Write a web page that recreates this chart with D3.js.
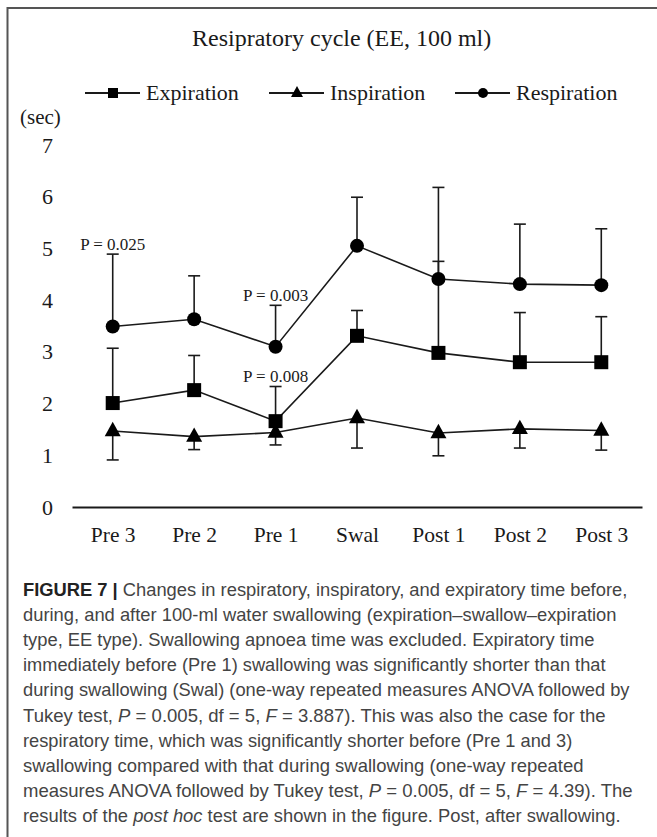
<!DOCTYPE html>
<html>
<head>
<meta charset="utf-8">
<script src="https://cdn.jsdelivr.net/npm/d3@7"></script>
<style>
  body { margin: 0; background: #fff; }
  svg { display: block; }
</style>
</head>
<body>
<div id="chart"></div>
<script>
// data (seconds)
var categories = ["Pre 3", "Pre 2", "Pre 1", "Swal", "Post 1", "Post 2", "Post 3"];
var yTicks = [0, 1, 2, 3, 4, 5, 6, 7];

var expiration = [2.01, 2.26, 1.66, 3.31, 2.98, 2.80, 2.80];
var expirationSD = [1.06, 0.67, 0.67, 0.49, 1.77, 0.96, 0.88];

var inspiration = [1.47, 1.36, 1.44, 1.72, 1.43, 1.51, 1.48];
var inspirationSD = [0.56, 0.25, 0.24, 0.58, 0.44, 0.37, 0.38];

var respiration = [3.49, 3.63, 3.10, 5.05, 4.41, 4.31, 4.29];
var respirationSD = [1.40, 0.84, 0.80, 0.94, 1.77, 1.16, 1.09];

var pLabels = ["P = 0.025", "P = 0.003", "P = 0.008"];
var pCategories = ["Pre 3", "Pre 1", "Pre 1"];
var pSeries = ["Respiration", "Respiration", "Expiration"];

var captionLines = [
  [["FIGURE 7 | ", "b"], ["Changes in respiratory, inspiratory, and expiratory time before,", ""]],
  [["during, and after 100-ml water swallowing (expiration\u2013swallow\u2013expiration", ""]],
  [["type, EE type). Swallowing apnoea time was excluded. Expiratory time", ""]],
  [["immediately before (Pre 1) swallowing was significantly shorter than that", ""]],
  [["during swallowing (Swal) (one-way repeated measures ANOVA followed by", ""]],
  [["Tukey test, ", ""], ["P", "i"], [" = 0.005, df = 5, ", ""], ["F", "i"], [" = 3.887). This was also the case for the", ""]],
  [["respiratory time, which was significantly shorter before (Pre 1 and 3)", ""]],
  [["swallowing compared with that during swallowing (one-way repeated", ""]],
  [["measures ANOVA followed by Tukey test, ", ""], ["P", "i"], [" = 0.005, df = 5, ", ""], ["F", "i"], [" = 4.39). The", ""]],
  [["results of the ", ""], ["post hoc", "i"], [" test are shown in the figure. Post, after swallowing.", ""]]
];
var captionWidths = [605, 594, 572, 583, 607, 583, 550, 561, 610, 598];

var W = 657, H = 837;
var serif = "'Liberation Serif', 'Times New Roman', serif";
var ink = "#1a1a1a";

var svg = d3.select("#chart").append("svg")
  .attr("width", W)
  .attr("height", H);

svg.append("rect").attr("width", W).attr("height", H).attr("fill", "#fff");

// frame (top + left rule)
svg.append("path")
  .attr("d", "M7.5," + H + "V8H" + W)
  .attr("fill", "none")
  .attr("stroke", "#555")
  .attr("stroke-width", 2);

// scales
var x = d3.scalePoint()
  .domain(categories)
  .range([72, 642])
  .padding(0.5);

var y = d3.scaleLinear()
  .domain([0, 7])
  .range([507, 145]);

// title
svg.append("text")
  .attr("x", 192)
  .attr("y", 46)
  .style("font-family", serif)
  .style("font-size", "24px")
  .attr("fill", ink)
  .text("Resipratory cycle (EE, 100 ml)");

svg.append("text")
  .attr("x", 20)
  .attr("y", 124)
  .style("font-family", serif)
  .style("font-size", "21px")
  .attr("fill", ink)
  .text("(sec)");

// y axis (labels only)
var yAxis = svg.append("g")
  .attr("transform", "translate(61,0)")
  .call(d3.axisLeft(y).tickValues(yTicks).tickSize(0).tickPadding(8).tickFormat(d3.format("d")));
yAxis.select(".domain").remove();
yAxis.selectAll("text")
  .style("font-family", serif)
  .style("font-size", "22px")
  .attr("fill", ink);

// x axis
var xAxis = svg.append("g")
  .attr("transform", "translate(0," + y(0) + ")")
  .call(d3.axisBottom(x).tickSize(0).tickSizeOuter(0));
xAxis.select(".domain")
  .attr("stroke", ink)
  .attr("stroke-width", 2);
xAxis.selectAll("text")
  .attr("y", 27)
  .attr("dy", "0.35em")
  .style("font-family", serif)
  .style("font-size", "21.5px")
  .attr("fill", ink);

// marker shapes
function drawMarker(g, shape, s) {
  if (shape === "square") {
    g.append("rect").attr("x", -s / 2).attr("y", -s / 2).attr("width", s).attr("height", s).attr("fill", "#000");
  } else if (shape === "circle") {
    g.append("circle").attr("r", s / 2).attr("fill", "#000");
  } else {
    var h = s * 0.9;
    g.append("path")
      .attr("d", "M0," + (-h * 0.64) + "L" + (s / 2) + "," + (h * 0.36) + "L" + (-s / 2) + "," + (h * 0.36) + "Z")
      .attr("fill", "#000");
  }
}

var series = [
  { name: "Expiration", values: expiration, sd: expirationSD, dir: 1, shape: "square", size: 14 },
  { name: "Inspiration", values: inspiration, sd: inspirationSD, dir: -1, shape: "triangle", size: 16 },
  { name: "Respiration", values: respiration, sd: respirationSD, dir: 1, shape: "circle", size: 14 }
];

var line = d3.line()
  .x(function(d) { return x(d.cat); })
  .y(function(d) { return y(d.v); });

series.forEach(function(s) {
  var pts = categories.map(function(c, i) { return { cat: c, v: s.values[i], sd: s.sd[i] }; });
  var g = svg.append("g");

  // error bars (one-sided)
  pts.forEach(function(p) {
    var end = y(p.v + s.dir * p.sd);
    g.append("line")
      .attr("x1", x(p.cat)).attr("x2", x(p.cat))
      .attr("y1", y(p.v)).attr("y2", end)
      .attr("stroke", ink).attr("stroke-width", 1.6);
    g.append("line")
      .attr("x1", x(p.cat) - 6).attr("x2", x(p.cat) + 6)
      .attr("y1", end).attr("y2", end)
      .attr("stroke", ink).attr("stroke-width", 1.6);
  });

  g.append("path")
    .datum(pts)
    .attr("d", line)
    .attr("fill", "none")
    .attr("stroke", ink)
    .attr("stroke-width", 1.6);

  pts.forEach(function(p) {
    var m = g.append("g").attr("transform", "translate(" + x(p.cat) + "," + y(p.v) + ")");
    drawMarker(m, s.shape, s.size);
  });
});

// significance labels above the error caps
pLabels.forEach(function(lab, i) {
  var s = series.filter(function(d) { return d.name === pSeries[i]; })[0];
  var k = categories.indexOf(pCategories[i]);
  svg.append("text")
    .attr("x", x(pCategories[i]))
    .attr("y", y(s.values[k] + s.sd[k]) - 10)
    .attr("dy", "0.35em")
    .attr("text-anchor", "middle")
    .style("font-family", serif)
    .style("font-size", "17px")
    .attr("fill", ink)
    .text(lab);
});

// legend
var legendX = [113, 297, 483];
series.forEach(function(s, i) {
  var lg = svg.append("g").attr("transform", "translate(" + legendX[i] + ",93)");
  lg.append("line")
    .attr("x1", -28).attr("x2", 27)
    .attr("stroke", ink).attr("stroke-width", 1.8);
  drawMarker(lg, s.shape, s.shape === "triangle" ? 12 : 10);
  lg.append("text")
    .attr("x", 33)
    .attr("dy", "0.33em")
    .style("font-family", serif)
    .style("font-size", "22px")
    .attr("fill", ink)
    .text(s.name);
});

// caption: each line stretched horizontally to the width it has in the figure
var cap = svg.append("g")
  .style("font-family", "'Liberation Sans', Arial, sans-serif")
  .style("font-size", "17.5px");

captionLines.forEach(function(segs, i) {
  var row = cap.append("g");
  var t = row.append("text").attr("fill", "#444");
  segs.forEach(function(sg) {
    var sp = t.append("tspan").text(sg[0]);
    if (sg[1] === "b") sp.style("font-weight", "bold").attr("fill", "#222");
    if (sg[1] === "i") sp.style("font-style", "italic");
  });
  var k = captionWidths[i] / t.node().getComputedTextLength();
  row.attr("transform", "translate(23," + (596 + i * 25.1) + ") scale(" + k + ",1)");
});
</script>
</body>
</html>
